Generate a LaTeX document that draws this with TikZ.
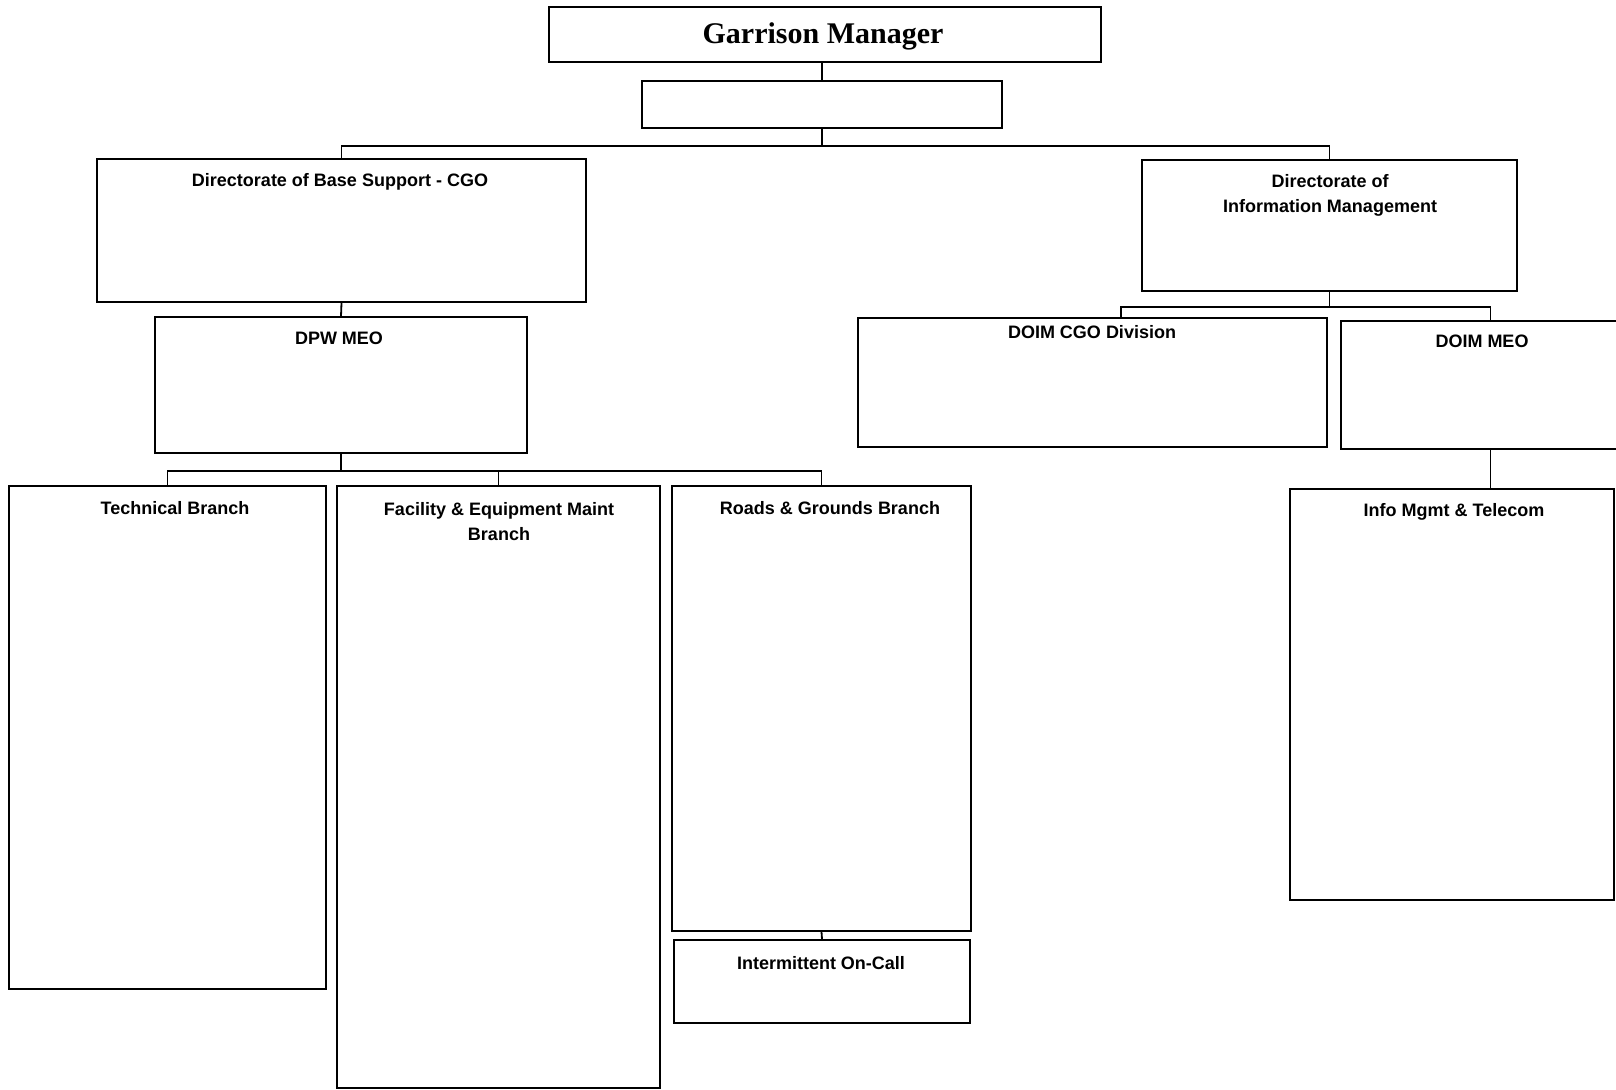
\documentclass[tikz,border=0pt]{standalone}
\usepackage{fontspec}
\setmainfont{Liberation Sans}
\newfontfamily\gmfont{Liberation Serif}
\usetikzlibrary{fit}
\tikzset{
  box/.style={draw, line width=0.9pt, inner sep=0pt},
  lab/.style={anchor=north, inner sep=0pt, align=center, font=\bfseries\fontsize{9}{12.35}\selectfont},
  gmlab/.style={anchor=north, inner sep=0pt, font=\gmfont\bfseries\fontsize{15}{18}\selectfont},
  conn/.style={line width=0.9pt},
}
\begin{document}
\begin{tikzpicture}[x=0.5pt,y=-0.5pt]
\clip (0,0) rectangle (1616,1090);
\fill[white] (0,0) rectangle (1616,1090);
% boxes
\node[box, fit={(549,7) (1101,62)}] (gm) {};
\node[box, fit={(642,81) (1002,128)}] (b2) {};
\node[box, fit={(97,159) (586,302)}] (dbs) {};
\node[box, fit={(1142,160) (1517,291)}] (doim) {};
\node[box, fit={(155,317) (527,453)}] (dpw) {};
\node[box, fit={(9,486) (326,989)}] (tech) {};
\node[box, fit={(337,486) (660,1088)}] (fac) {};
\node[box, fit={(672,486) (971,931)}] (roads) {};
\node[box, fit={(674,940) (970,1023)}] (inter) {};
\node[box, fit={(858,318) (1327,447)}] (cgo) {};
\node[box, fit={(1341,321) (1640,449)}] (meo) {};
\node[box, fit={(1290,489) (1614,900)}] (info) {};
% labels
\node[gmlab] (gmt) at (823,22) {Garrison Manager};
\node[lab] (dbst) at (340,173.5) {Directorate of Base Support - CGO};
\node[lab] (doimt) at (1330,174.5) {Directorate of\\Information Management};
\node[lab] (dpwt) at (339,331.5) {DPW MEO};
\node[lab] (techt) at (175,501.5) {Technical Branch};
\node[lab] (fact) at (499,502.5) {Facility \& Equipment Maint\\Branch};
\node[lab] (roadst) at (830,501.5) {Roads \& Grounds Branch};
\node[lab] (intert) at (821,956.5) {Intermittent On-Call};
\node[lab] (cgot) at (1092,325.5) {DOIM CGO Division};
\node[lab] (meot) at (1482,334.5) {DOIM MEO};
\node[lab] (infot) at (1454,503.5) {Info Mgmt \& Telecom};
% bus coordinates
\coordinate (bus1) at (0,146);
\coordinate (bus2) at (0,471);
\coordinate (bus3) at (0,307);
\coordinate (cgodrop) at (1121,318);
% connectors
\draw[conn] (b2.north) -- (b2.north |- gm.south);
\draw[conn] (b2.south) -- (b2.south |- bus1);
\draw[conn] (dbs.north) -- (dbs.north |- bus1) -- (doim.north |- bus1) -- (doim.north);
\draw[conn] (dbs.south) -- (dpw.north);
\draw[conn] (dpw.south) -- (dpw.south |- bus2);
\draw[conn] (tech.north) -- (tech.north |- bus2) -- (roads.north |- bus2) -- (roads.north);
\draw[conn] (fac.north) -- (fac.north |- bus2);
\draw[conn] (roads.south) -- (inter.north);
\draw[conn] (doim.south) -- (doim.south |- bus3);
\draw[conn] (cgodrop) -- (cgodrop |- bus3) -- (meo.north |- bus3) -- (meo.north);
\draw[conn] (meo.south) -- (meo.south |- info.north);
\end{tikzpicture}
\end{document}
